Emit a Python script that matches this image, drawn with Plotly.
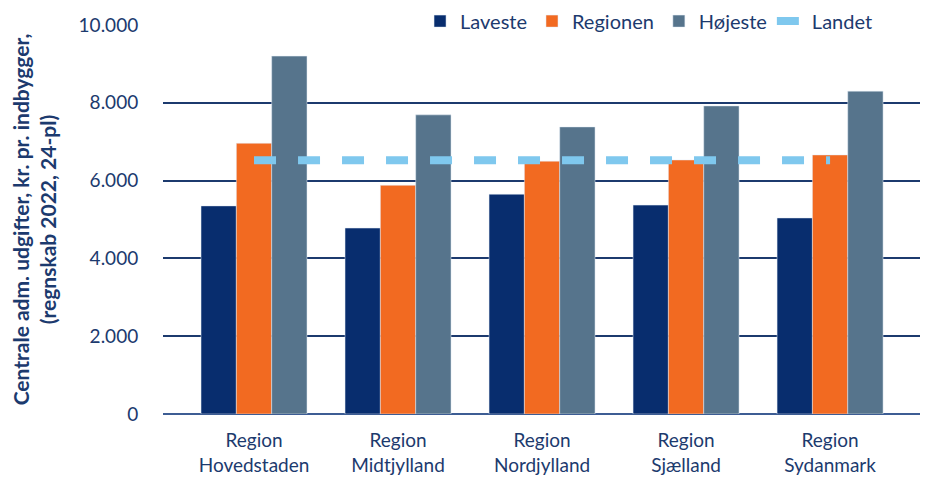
import plotly.graph_objects as go

regions = ["Region<br>Hovedstaden", "Region<br>Midtjylland", "Region<br>Nordjylland",
           "Region<br>Sjælland", "Region<br>Sydanmark"]
laveste = [5350, 4780, 5650, 5370, 5040]
regionen = [6960, 5880, 6500, 6530, 6660]
hojeste = [9200, 7690, 7380, 7920, 8300]
landet = [6520, 6520, 6520, 6520, 6520]

navy = "#1c3a6e"
font = "Lato"

fig = go.Figure()
fig.add_trace(go.Bar(x=regions, y=laveste, name="Laveste", marker_color="#082d6e"))
fig.add_trace(go.Bar(x=regions, y=regionen, name="Regionen", marker_color="#f26a21"))
fig.add_trace(go.Bar(x=regions, y=hojeste, name="Højeste", marker_color="#56748c"))
fig.add_trace(go.Scatter(x=regions, y=landet, name="Landet", mode="lines",
                         line=dict(color="#7fc8ee", width=8, dash="22px,22px")))

# page body has an 8px margin, so the figure is sized to fit inside the window
fig.update_layout(
    width=920, height=469,
    margin=dict(l=155, r=0, t=17, b=63, autoexpand=False),
    paper_bgcolor="white", plot_bgcolor="white",
    font=dict(family=font, size=19, color=navy),
    barmode="group", bargap=0.264, bargroupgap=0,
    showlegend=True,
    legend=dict(orientation="h", x=0.336, xanchor="left", y=1.01, yanchor="middle",
                bgcolor="rgba(0,0,0,0)", font=dict(size=20, color=navy),
                itemwidth=30, traceorder="normal"),
    xaxis=dict(range=[-0.632, 4.68], showgrid=False, ticks="outside", ticklen=9,
               tickcolor="white", tickfont=dict(size=19, color=navy)),
    yaxis=dict(range=[0, 10000], dtick=2000, tickformat=",d", separatethousands=True,
               showgrid=True, gridcolor=navy, gridwidth=1.5,
               zeroline=True, zerolinecolor="#3d5d94", zerolinewidth=2,
               ticks="outside", ticklen=20, tickcolor="white",
               tickfont=dict(size=19, color=navy),
               title=dict(text="<b>Centrale adm. udgifter, kr. pr. indbygger,<br>(regnskab 2022, 24-pl)</b>",
                          font=dict(size=21, color=navy), standoff=22)),
    separators=",.",
    shapes=[dict(type="rect", xref="paper", yref="paper", x0=0.281, x1=1.0,
                 y0=0.985, y1=1.015, fillcolor="white", line=dict(width=0), layer="above")],
)

fig.write_html("out.html")
